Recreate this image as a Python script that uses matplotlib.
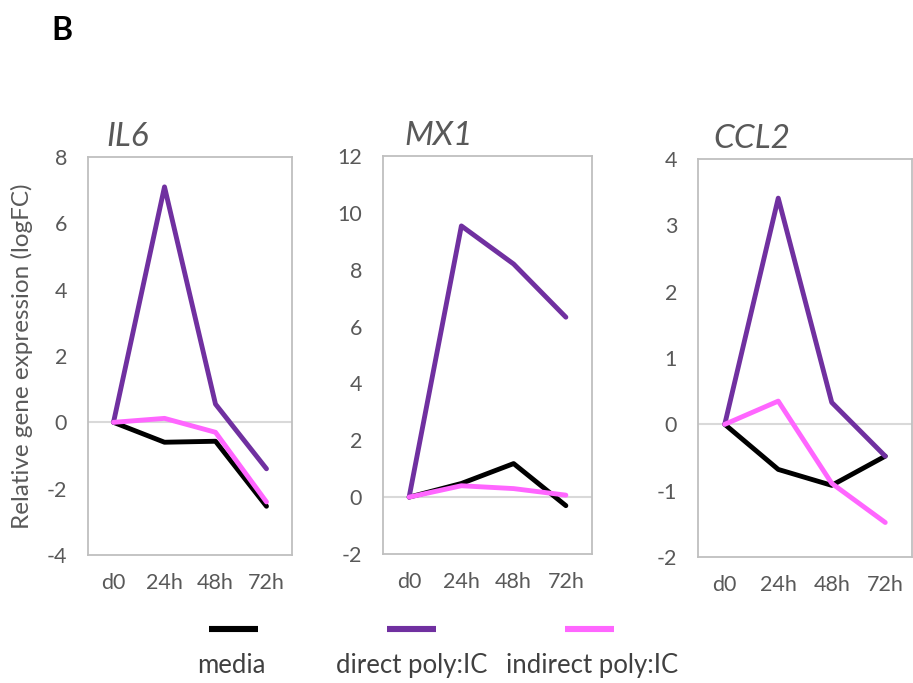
import matplotlib
matplotlib.use("Agg")
import matplotlib.pyplot as plt
from matplotlib.lines import Line2D

plt.rcParams['font.family'] = ['Lato', 'DejaVu Sans']

timepoints = ["d0", "24h", "48h", "72h"]
series_names = ["media", "direct poly:IC", "indirect poly:IC"]
series_colors = ["#000000", "#7030A0", "#FF66FF"]

genes = ["IL6", "MX1", "CCL2"]

il6_media = [0.0, -0.60, -0.57, -2.53]
il6_direct = [0.0, 7.10, 0.55, -1.40]
il6_indirect = [0.0, 0.12, -0.30, -2.40]

mx1_media = [0.0, 0.48, 1.18, -0.30]
mx1_direct = [0.0, 9.54, 8.20, 6.33]
mx1_indirect = [0.0, 0.40, 0.30, 0.07]

ccl2_media = [0.0, -0.68, -0.92, -0.48]
ccl2_direct = [0.0, 3.41, 0.33, -0.48]
ccl2_indirect = [0.0, 0.35, -0.89, -1.48]

gene_data = {
    "IL6": [il6_media, il6_direct, il6_indirect],
    "MX1": [mx1_media, mx1_direct, mx1_indirect],
    "CCL2": [ccl2_media, ccl2_direct, ccl2_indirect],
}
y_ranges = {"IL6": (-4, 8, 2), "MX1": (-2, 12, 2), "CCL2": (-2, 4, 1)}

TEXT = "#595959"
SPINE = "#BFBFBF"
ZERO = "#D9D9D9"

fig = plt.figure(figsize=(9.13, 6.83), dpi=100)

axes_rects = [
    [0.0964, 0.1874, 0.2234, 0.5827],
    [0.4195, 0.1889, 0.2289, 0.5827],
    [0.7645, 0.1845, 0.2344, 0.5827],
]
title_x = [0.09, 0.10, 0.07]

for gene, rect, tx in zip(genes, axes_rects, title_x):
    ax = fig.add_axes(rect)
    lo, hi, step = y_ranges[gene]
    x = list(range(len(timepoints)))
    ax.axhline(0, color=ZERO, lw=1.5, zorder=1)
    for vals, col in zip(gene_data[gene], series_colors):
        ax.plot(x, vals, color=col, lw=3.5, solid_capstyle='round',
                solid_joinstyle='round', zorder=3)
    ax.set_xlim(-0.5, len(timepoints) - 0.5)
    ax.set_ylim(lo, hi)
    ticks = list(range(lo, hi + 1, step))
    ax.set_yticks(ticks)
    ax.set_yticklabels([str(t) for t in ticks])
    ax.set_xticks(x)
    ax.set_xticklabels(timepoints)
    ax.tick_params(axis='both', length=0, labelsize=15.5, colors=TEXT)
    ax.tick_params(axis='y', pad=15)
    ax.tick_params(axis='x', pad=13)
    for sp in ax.spines.values():
        sp.set_color(SPINE)
        sp.set_linewidth(1.3)
    ax.set_title(gene, style='italic', fontsize=24, color=TEXT, loc='left',
                 x=tx, pad=8)

fig.text(0.024, 0.479, "Relative gene expression (logFC)", rotation=90,
         ha='center', va='center', fontsize=17.5, color=TEXT)

fig.text(0.056, 0.955, "B", fontsize=23, fontweight='bold', ha='left',
         va='center', color='black')

# legend: line sample above each series name
line_centers = [0.2557, 0.4507, 0.6457]
label_centers = [0.253, 0.4513, 0.6484]
for name, col, cx, lx in zip(series_names, series_colors, line_centers,
                             label_centers):
    fig.add_artist(Line2D([cx - 0.0268, cx + 0.0268], [0.079, 0.079],
                          transform=fig.transFigure, color=col, lw=4.4,
                          solid_capstyle='butt'))
    fig.text(lx, 0.026, name, ha='center', va='center', fontsize=18.5,
             color='#404040')

fig.savefig("out.png", dpi=100)
